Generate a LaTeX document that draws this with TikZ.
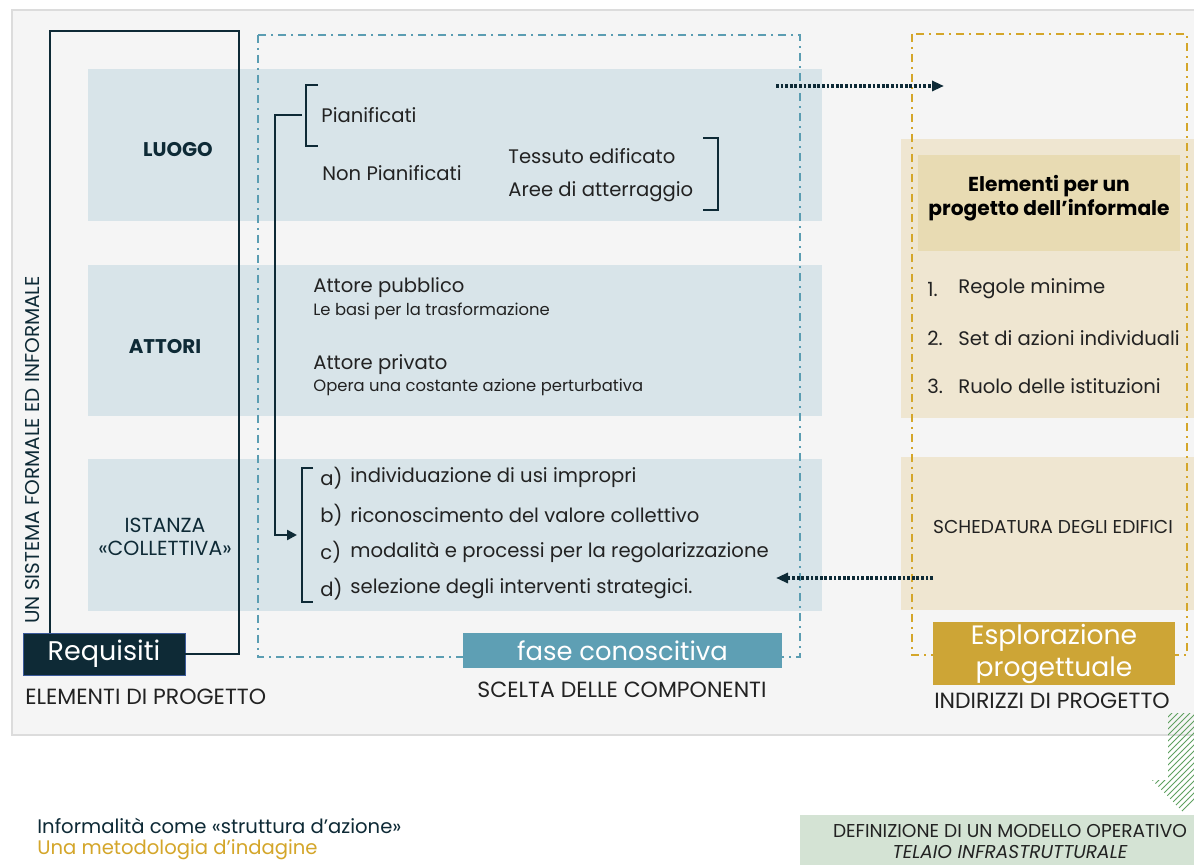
\documentclass[tikz,border=0pt]{standalone}
\usepackage{fontspec}
\setmainfont{Poppins}
\usepackage{tikz}
\usetikzlibrary{patterns,arrows.meta}

\definecolor{scuro}{HTML}{0E2A36}
\definecolor{nero}{HTML}{222222}
\definecolor{grigiofondo}{HTML}{F5F5F5}
\definecolor{grigiobordo}{HTML}{DCDCDC}
\definecolor{azzurrino}{HTML}{D8E4E9}
\definecolor{bluTratto}{HTML}{5B9DB2}
\definecolor{bluFase}{HTML}{5E9FB4}
\definecolor{bluReq}{HTML}{3B5A9A}
\definecolor{oro}{HTML}{D4A62A}
\definecolor{oroChiaro}{HTML}{EFE6D1}
\definecolor{oroMedio}{HTML}{E8DBB3}
\definecolor{oroBox}{HTML}{CDA536}
\definecolor{verdino}{HTML}{D4E3D4}
\definecolor{verdeFreccia}{HTML}{5FA060}

\begin{document}
\begin{tikzpicture}[x=0.5pt,y=-0.5pt,
    voce/.style={anchor=west,inner sep=0pt,text=nero,font=\fontsize{9.8}{11}\selectfont},
    nota/.style={anchor=west,inner sep=0pt,text=nero,font=\fontsize{8.2}{9}\selectfont},
    titolo/.style={inner sep=0pt,text=scuro,font=\fontsize{9.9}{11}\selectfont\bfseries},
    didascalia/.style={inner sep=0pt,text=nero,font=\fontsize{11}{12}\selectfont},
    parentesi/.style={draw=scuro,line width=1.3pt},
    cornice/.style={draw=scuro,line width=1.2pt},
    connettore/.style={draw=scuro,line width=1.2pt,-{Triangle[length=5pt,width=5pt]}},
    freccia/.style={draw=scuro,line width=1.6pt,dash pattern=on 1.4pt off 0.9pt,-{Triangle[length=6pt,width=5pt]}},
    tratteggio/.style={line width=1pt,dash pattern=on 4pt off 2.5pt on 1pt off 2.5pt}]

    \useasboundingbox (0,0) rectangle (1194,865);
    \fill[white] (0,0) rectangle (1194,865);
    \draw[grigiobordo,fill=grigiofondo,line width=1pt] (12,10) rectangle (1210,735);

    \fill[azzurrino] (88,69) rectangle (822,221);
    \fill[azzurrino] (88,265) rectangle (822,416);
    \fill[azzurrino] (88,459) rectangle (822,611);
    \fill[oroChiaro] (901,139) rectangle (1200,418);
    \fill[oroChiaro] (901,457) rectangle (1200,610);
    \fill[oroMedio] (918,155) rectangle (1180,251);

    \node[draw=bluReq,fill=scuro,text=white,inner sep=0pt,minimum width=81pt,minimum height=21pt,
        font=\fontsize{13.5}{15}\selectfont] (req) at (104,654) {Requisiti};
    \draw[cornice] (req.east) -| (239,31) -| (50,0 |- req.north);
    \node[didascalia,anchor=west] (elem) at (25,697) {ELEMENTI DI PROGETTO};
    \node[rotate=90,inner sep=0pt,text=scuro,font=\fontsize{10}{11}\selectfont] (sistema) at (33,450) {UN SISTEMA FORMALE ED INFORMALE};

    \draw[bluTratto,tratteggio] (258,35) rectangle (800,657);
    \node[fill=bluFase,text=white,inner sep=0pt,minimum width=159.5pt,minimum height=17.5pt,
        font=\fontsize{12.9}{14}\selectfont] (fase) at (622.5,650.5) {fase conoscitiva};
    \node[didascalia] (scelta) at (622,690) {SCELTA DELLE COMPONENTI};

    \draw[oro,tratteggio] (912,34) rectangle (1187,655);
    \node[fill=oroBox,text=white,inner sep=0pt,minimum width=121pt,minimum height=31.5pt,align=center,
        font=\fontsize{13.3}{16}\selectfont] (esplora) at (1054,653.5) {Esplorazione\\progettuale};
    \node[didascalia] (indirizzi) at (1052,701) {INDIRIZZI DI PROGETTO};

    \node[titolo] (luogo) at (178,150) {LUOGO};
    \node[titolo] (attori) at (165,347) {ATTORI};
    \node[inner sep=0pt,text=scuro,align=center,font=\fontsize{10.2}{11.5}\selectfont] (istanza) at (165,537) {ISTANZA\\«COLLETTIVA»};

    \node[voce] (pian) at (321,115) {Pianificati};
    \node[voce] (nonpian) at (322,173) {Non Pianificati};
    \node[voce] (tessuto) at (508,156) {Tessuto edificato};
    \node[voce] (aree) at (508,192) {Aree di atterraggio};
    \draw[parentesi] (318,85) -- (306,85) -- (306,146) -- (318,146);
    \draw[parentesi] (703,138) -- (718,138) -- (718,210) -- (703,210);

    \node[voce] (pubblico) at (313,288) {Attore pubblico};
    \node[nota] (basi) at (313,311) {Le basi per la trasformazione};
    \node[voce] (privato) at (313,365) {Attore privato};
    \node[nota] (opera) at (313,387) {Opera una costante azione perturbativa};

    \draw[parentesi] (313,468) -- (302,468) -- (302,602) -- (313,602);
    \node[voce] (la) at (320,478) {a)};
    \node[voce] (lb) at (320,515) {b)};
    \node[voce] (lc) at (320,552) {c)};
    \node[voce] (ld) at (320,589) {d)};
    \node[voce] (va) at (350,478) {individuazione di usi impropri};
    \node[voce] (vb) at (350,515) {riconoscimento del valore collettivo};
    \node[voce] (vc) at (350,552) {modalità e processi per la regolarizzazione};
    \node[voce] (vd) at (350,589) {selezione degli interventi strategici.};

    \coordinate (brPian) at (302,115);
    \coordinate (brLista) at (297,535);
    \draw[connettore] (brPian) -- (275,115) |- (brLista);

    \node[inner sep=0pt,text=black,align=center,font=\fontsize{10.1}{12}\selectfont\bfseries] (elementi) at (1049,198) {Elementi per un\\progetto dell’informale};
    \node[voce] (n1) at (927,289) {1.};
    \node[voce] (n2) at (927,338) {2.};
    \node[voce] (n3) at (927,386) {3.};
    \node[voce] (r1) at (958,289) {Regole minime};
    \node[voce] (r2) at (958,338) {Set di azioni individuali};
    \node[voce] (r3) at (958,386) {Ruolo delle istituzioni};
    \node[inner sep=0pt,text=nero,font=\fontsize{9.3}{10}\selectfont] (scheda) at (1053,527) {SCHEDATURA DEGLI EDIFICI};

    \coordinate (luogoEsce) at (776,86);
    \coordinate (progEntra) at (944,86);
    \draw[freccia] (luogoEsce) -- (progEntra);
    \coordinate (schedaEsce) at (933,578);
    \coordinate (listaEntra) at (776,578);
    \draw[freccia] (schedaEsce) -- (listaEntra);

    \fill[pattern=north east lines,pattern color=verdeFreccia] (1168,713) -- (1200,713) -- (1200,780) -- (1214,780) -- (1183,812) -- (1152,780) -- (1168,780) -- cycle;
    \fill[verdino] (800,815) rectangle (1200,870);
    \node[inner sep=0pt,text=nero,align=center,font=\fontsize{9.3}{10.5}\selectfont] (modello) at (1010,842) {DEFINIZIONE DI UN MODELLO OPERATIVO\\\itshape TELAIO INFRASTRUTTURALE};

    \node[voce,text=scuro] (informalita) at (37,826) {Informalità come «struttura d’azione»};
    \node[voce,text=oro] (metodo) at (37,850) {Una metodologia d’indagine};
\end{tikzpicture}
\end{document}
